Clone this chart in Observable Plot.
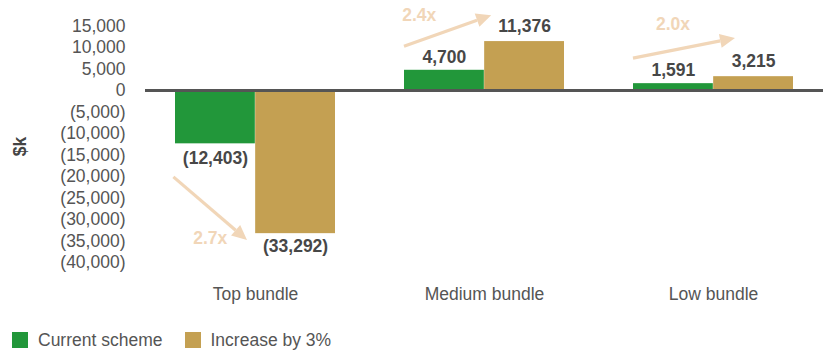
<!DOCTYPE html>
<html><head><meta charset="utf-8">
<script src="https://cdn.jsdelivr.net/npm/d3@7"></script>
<script src="https://cdn.jsdelivr.net/npm/@observablehq/plot@0.6"></script>
<style>
body{margin:0;background:#fff;font-family:"Liberation Sans",Arial,sans-serif;}
#legend{display:flex;align-items:center;height:44px;padding-left:12px;font-size:17.5px;color:#555;}
.item{display:flex;align-items:center;margin-right:22px}
.sw{display:inline-block;width:16px;height:16px;margin-right:10px}
</style></head><body><div id="chart"></div><div id="legend"></div>
<script>
// ---- data ----
const groups = ["Top bundle", "Medium bundle", "Low bundle"];
const seriesNames = ["Current scheme", "Increase by 3%"];
const currentScheme = [-12403, 4700, 1591];
const increaseBy3 = [-33292, 11376, 3215];
const yTicks = [15000, 10000, 5000, 0, -5000, -10000, -15000, -20000, -25000, -30000, -35000, -40000];
const colors = ["#22973a", "#c4a052"];
// annotation arrows: x as fraction of half-band from group centre, y in $k
const arrowFromX = [-1.02, -1.0, -1.0];
const arrowFromY = [-20200, 10200, 7400];
const arrowToX = [-0.1, 0.09, 0.275];
const arrowToY = [-34900, 17400, 12100];
const ratioLabelX = [-0.56, -0.81, -0.5];
const ratioLabelY = [-34400, 17400, 15350];

// ---- layout ----
const W = 823, H = 318, ML = 145, MR = 0, MT = 25.5, MB = 56;
const PI = 0.3, PO = 0.13;
const step = (W - ML - MR) / (groups.length - PI + 2 * PO);
const bw = step * (1 - PI);

const rows = [];
groups.forEach((g, i) => {
  rows.push({group: g, series: seriesNames[0], value: currentScheme[i]});
  rows.push({group: g, series: seriesNames[1], value: increaseBy3[i]});
});
const fmt = v => v < 0 ? "(" + d3.format(",")(-v) + ")" : d3.format(",")(v);
const ratios = groups.map((g, i) => ({
  group: g,
  label: (increaseBy3[i] / currentScheme[i]).toFixed(1) + "x",
  fx: arrowFromX[i], fy: arrowFromY[i], tx: arrowToX[i], ty: arrowToY[i],
  lx: ratioLabelX[i], ly: ratioLabelY[i]
}));

function arrows(index, scales) {
  const x = scales.x, y = scales.y;
  const b = (x && x.bandwidth) ? x.bandwidth() : bw;
  const g = d3.create("svg:g");
  for (const r of ratios) {
    const c = x(r.group) + b / 2;
    const x1 = c + r.fx * b / 2, y1 = y(r.fy);
    const x2 = c + r.tx * b / 2, y2 = y(r.ty);
    const ang = Math.atan2(y2 - y1, x2 - x1);
    const hl = 15, hw = 7;
    const bx = x2 - hl * Math.cos(ang), by = y2 - hl * Math.sin(ang);
    g.append("line").attr("x1", x1).attr("y1", y1).attr("x2", bx).attr("y2", by)
      .attr("stroke", "#f1d6b8").attr("stroke-width", 3.2);
    const px = -Math.sin(ang), py = Math.cos(ang);
    g.append("path")
      .attr("d", `M${x2},${y2}L${bx + px * hw},${by + py * hw}L${bx - px * hw},${by - py * hw}Z`)
      .attr("fill", "#f1d6b8");
    g.append("text").attr("x", c + r.lx * b / 2).attr("y", y(r.ly))
      .attr("text-anchor", "middle").attr("dy", "0.35em")
      .attr("fill", "#f1d6b8").attr("font-weight", "bold").attr("font-size", "17.5px")
      .attr("font-family", '"Liberation Sans", Arial, sans-serif')
      .text(r.label);
  }
  return g.node();
}

const isCur = d => d.series === seriesNames[0];
const labelOpts = {x: "group", y: "value", text: d => fmt(d.value), fontWeight: "bold", fill: "#474747", fontSize: 17.5};

const plot = Plot.plot({
  width: W, height: H,
  marginLeft: ML, marginRight: MR, marginTop: MT, marginBottom: MB,
  style: {fontFamily: '"Liberation Sans", Arial, sans-serif', fontSize: "17.5px", color: "#555", background: "#fff"},
  x: {domain: groups, paddingInner: PI, paddingOuter: PO, tickSize: 0, tickPadding: 25, label: null},
  y: {domain: [-40000, 15000], ticks: yTicks, tickFormat: fmt, tickSize: 0, tickPadding: 20, label: null},
  marks: [
    Plot.barY(rows.filter(isCur), {x: "group", y: "value", fill: colors[0], insetRight: bw / 2}),
    Plot.barY(rows.filter(d => !isCur(d)), {x: "group", y: "value", fill: colors[1], insetLeft: bw / 2}),
    Plot.ruleY([0], {stroke: "#555", strokeWidth: 3}),
    Plot.text(rows.filter(d => isCur(d) && d.value >= 0), {...labelOpts, dx: -bw / 4, dy: -13}),
    Plot.text(rows.filter(d => isCur(d) && d.value < 0), {...labelOpts, dx: -bw / 4, dy: 15}),
    Plot.text(rows.filter(d => !isCur(d) && d.value >= 0), {...labelOpts, dx: bw / 4, dy: -15}),
    Plot.text(rows.filter(d => !isCur(d) && d.value < 0), {...labelOpts, dx: bw / 4, dy: 13}),
    arrows,
    Plot.text(["$k"], {frameAnchor: "left", rotate: -90, dx: -125, dy: 12, fontWeight: "bold", fill: "#444", fontSize: 17.5})
  ]
});
document.getElementById("chart").appendChild(plot);

const legend = document.getElementById("legend");
seriesNames.forEach((s, i) => {
  const it = document.createElement("span");
  it.className = "item";
  const sw = document.createElement("span");
  sw.className = "sw";
  sw.style.background = colors[i];
  it.appendChild(sw);
  it.appendChild(document.createTextNode(s));
  legend.appendChild(it);
});
</script>
</body></html>
